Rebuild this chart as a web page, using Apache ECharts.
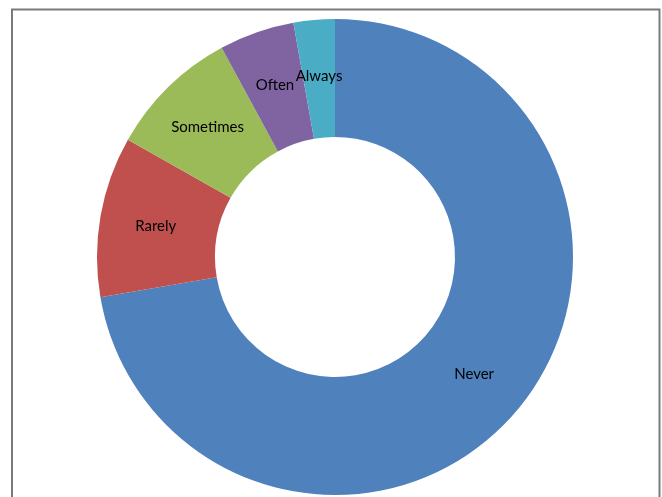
<!DOCTYPE html>
<html>
<head>
<meta charset="utf-8">
<script src="https://cdn.jsdelivr.net/npm/echarts@6/dist/echarts.min.js"></script>
<style>
html,body{margin:0;padding:0;background:#fff;}
#chart{width:662px;height:497px;}
</style>
</head>
<body>
<div id="chart"></div>
<script>
const categories = ['Never', 'Rarely', 'Sometimes', 'Often', 'Always'];
const values = [72.3, 10.9, 8.9, 5.1, 2.8];
const colors = ['#4F81BD', '#C0504D', '#9BBB59', '#8064A2', '#4BACC6'];

const chart = echarts.init(document.getElementById('chart'), null, {renderer: 'canvas'});
chart.setOption({
  animation: false,
  backgroundColor: '#ffffff',
  graphic: [{
    type: 'rect',
    shape: {x: 12, y: 9.5, width: 647.5, height: 500},
    style: {fill: 'none', stroke: '#7a7a7a', lineWidth: 2},
    silent: true
  }],
  series: [{
    type: 'pie',
    center: [335, 257],
    radius: [120, 238],
    startAngle: 90,
    clockwise: true,
    avoidLabelOverlap: false,
    itemStyle: {borderWidth: 0},
    label: {
      show: true,
      position: 'inside',
      formatter: '{b}',
      color: '#000000',
      fontFamily: 'Lato',
      fontSize: 15,
      padding: [4, 0, 0, 0]
    },
    labelLine: {show: false},
    emphasis: {disabled: true},
    data: categories.map((c, i) => ({name: c, value: values[i], itemStyle: {color: colors[i]}}))
  }]
});
</script>
</body>
</html>
